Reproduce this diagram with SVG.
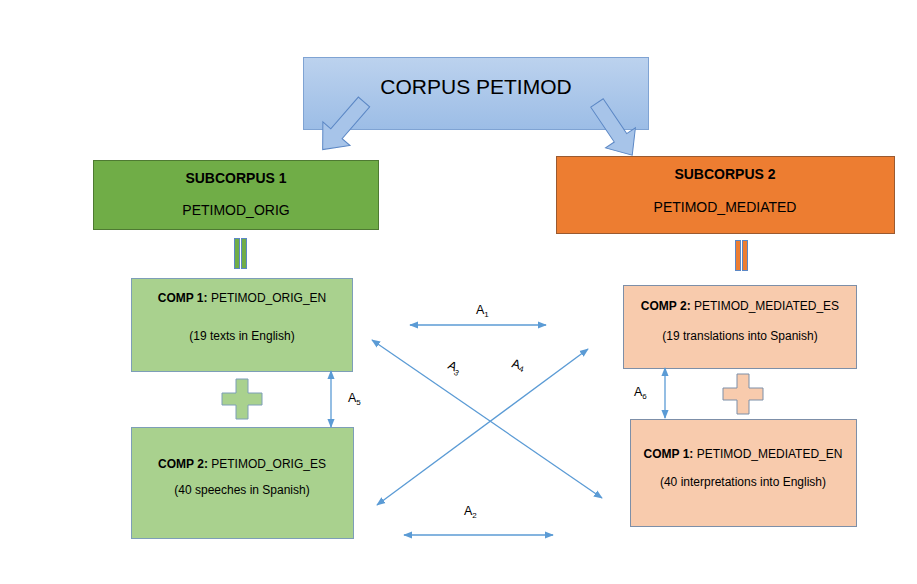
<svg xmlns="http://www.w3.org/2000/svg" width="917" height="584" viewBox="0 0 917 584">
<defs>
<linearGradient id="gBlue" x1="0" y1="0" x2="0" y2="1">
<stop offset="0" stop-color="#bcd2ee"/>
<stop offset="1" stop-color="#9cbde6"/>
</linearGradient>
<marker id="ah" viewBox="0 0 10 10" refX="9" refY="5" markerWidth="9" markerHeight="9" markerUnits="userSpaceOnUse" orient="auto-start-reverse">
<path d="M0,1 L10,5 L0,9 Z" fill="#5b9bd5"/>
</marker>
<path id="blockArrow" d="M0,-7.5 L42,-7.5 L42,-18 L63,0 L42,18 L42,7.5 L0,7.5 Z"/>
<path id="plus" d="M-6,-20 H6 V-6 H20 V6 H6 V20 H-6 V6 H-20 V-6 H-6 Z"/>
</defs>
<style>
text{font-family:"Liberation Sans",Arial,sans-serif;fill:#000}
.big{font-size:21px}
.sub{font-size:14px}
.b{font-weight:bold}
.c{font-size:12px}
.lab{font-size:12.5px}
.s{font-size:8px}
.conn{stroke:#5b9bd5;stroke-width:1.3;fill:none;marker-start:url(#ah);marker-end:url(#ah)}
.barrow{fill:#a7c4e9;stroke:#5b87c5;stroke-width:1}
</style>
<rect width="917" height="584" fill="#fff"/>

<g id="corpus">
<rect x="303.5" y="57.5" width="345" height="72" fill="url(#gBlue)" stroke="#7fa3d3"/>
<text class="big" x="476" y="94" text-anchor="middle">CORPUS PETIMOD</text>
</g>

<g id="blockarrows">
<use href="#blockArrow" class="barrow" transform="translate(364,102) rotate(131)"/>
<use href="#blockArrow" class="barrow" transform="translate(597,103) rotate(56)"/>
</g>

<g id="subcorpus1">
<rect x="93.5" y="160.5" width="285" height="69" fill="#70ad47" stroke="#4e7a32"/>
<text class="sub b" x="236" y="183" text-anchor="middle">SUBCORPUS 1</text>
<text class="sub" x="236" y="215" text-anchor="middle">PETIMOD_ORIG</text>
</g>

<g id="subcorpus2">
<rect x="556.5" y="156.5" width="338" height="77" fill="#ed7d31" stroke="#9a5a30"/>
<text class="sub b" x="725" y="179" text-anchor="middle">SUBCORPUS 2</text>
<text class="sub" x="725" y="212" text-anchor="middle">PETIMOD_MEDIATED</text>
</g>

<g id="equal1">
<rect x="234.5" y="238.5" width="5" height="30" fill="#70ad47" stroke="#5b87c5"/>
<rect x="241.5" y="238.5" width="5" height="30" fill="#70ad47" stroke="#5b87c5"/>
</g>
<g id="equal2">
<rect x="735.5" y="240.5" width="5" height="30" fill="#ed7d31" stroke="#5b87c5"/>
<rect x="742.5" y="240.5" width="5" height="30" fill="#ed7d31" stroke="#5b87c5"/>
</g>

<g id="orig_en">
<rect x="131.5" y="278.5" width="221" height="93" fill="#a9d18e" stroke="#7d9eb8"/>
<text class="c" x="242" y="302" text-anchor="middle"><tspan class="b">COMP 1:</tspan> PETIMOD_ORIG_EN</text>
<text class="c" x="242" y="340" text-anchor="middle">(19 texts in English)</text>
</g>

<g id="plus1">
<use href="#plus" x="242" y="399" fill="#a9d18e" stroke="#7d9eb8"/>
</g>

<g id="orig_es">
<rect x="131.5" y="427.5" width="222" height="111" fill="#a9d18e" stroke="#7d9eb8"/>
<text class="c" x="242" y="468" text-anchor="middle"><tspan class="b">COMP 2</tspan><tspan class="b">:</tspan> PETIMOD_ORIG_ES</text>
<text class="c" x="242" y="494" text-anchor="middle">(40 speeches in Spanish)</text>
</g>

<g id="med_es">
<rect x="623.5" y="285.5" width="233" height="83" fill="#f8cbad" stroke="#7d8fa8"/>
<text class="c" x="740" y="310" text-anchor="middle"><tspan class="b">COMP 2:</tspan>  PETIMOD_MEDIATED_ES</text>
<text class="c" x="740" y="340" text-anchor="middle">(19 translations into Spanish)</text>
</g>

<g id="plus2">
<use href="#plus" x="743" y="394" fill="#f8cbad" stroke="#7d8fa8"/>
</g>

<g id="med_en">
<rect x="630.5" y="419.5" width="226" height="107" fill="#f8cbad" stroke="#7d8fa8"/>
<text class="c" x="743" y="458" text-anchor="middle"><tspan class="b">COMP 1:</tspan> PETIMOD_MEDIATED_EN</text>
<text class="c" x="743" y="486" text-anchor="middle">(40 interpretations into English)</text>
</g>

<g id="connectors">
<line class="conn" x1="410" y1="325" x2="546" y2="325"/>
<line class="conn" x1="404" y1="535" x2="553" y2="535"/>
<line class="conn" x1="372" y1="340" x2="602" y2="498"/>
<line class="conn" x1="588" y1="349" x2="377" y2="505"/>
<line class="conn" x1="331" y1="371" x2="331" y2="427"/>
<line class="conn" x1="665" y1="368" x2="665" y2="418"/>
</g>

<g id="labels">
<text class="lab" x="476" y="314">A<tspan class="s" dy="3">1</tspan></text>
<text class="lab" x="464" y="515">A<tspan class="s" dy="3">2</tspan></text>
<text class="lab" transform="translate(447,368) rotate(25)">A<tspan class="s" dy="3">3</tspan></text>
<text class="lab" transform="translate(511,367) rotate(15)">A<tspan class="s" dy="2">4</tspan></text>
<text class="lab" x="348" y="402">A<tspan class="s" dy="3">5</tspan></text>
<text class="lab" x="634" y="396">A<tspan class="s" dy="3">6</tspan></text>
</g>
</svg>
